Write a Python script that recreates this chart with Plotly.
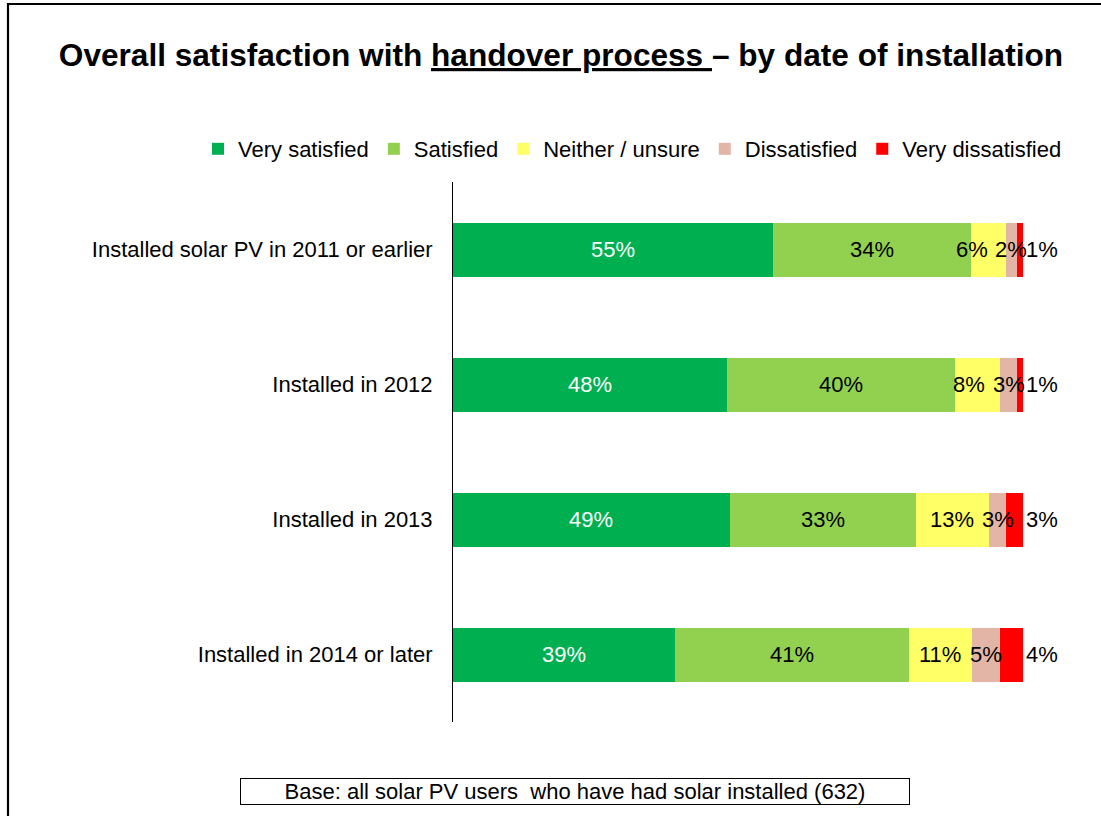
import plotly.graph_objects as go

# Survey groups (top to bottom) and response shares in percent
groups = [
    "Installed solar PV in 2011 or earlier",
    "Installed in 2012",
    "Installed in 2013",
    "Installed in 2014 or later",
]
very_satisfied = [55, 48, 49, 39]
satisfied = [34, 40, 33, 41]
neither_unsure = [6, 8, 13, 11]
dissatisfied = [2, 3, 3, 5]
very_dissatisfied = [1, 1, 3, 4]

series_names = ["Very satisfied", "Satisfied", "Neither / unsure",
                "Dissatisfied", "Very dissatisfied"]
series_values = [very_satisfied, satisfied, neither_unsure,
                 dissatisfied, very_dissatisfied]
series_colors = ["#00B050", "#92D050", "#FFFF66", "#E2B5A6", "#FF0000"]
label_colors = ["white", "black", "black", "black", "black"]

FONT = "Arial, 'Liberation Sans', sans-serif"
LABEL_SIZE = 22

# plot-area geometry (pixels)
PLOT_L, PLOT_W = 453, 570
PLOT_T, PLOT_H = 182, 540
PX_PER_UNIT = PLOT_W / 100.0

fig = go.Figure()
for name, vals, col in zip(series_names, series_values, series_colors):
    fig.add_trace(go.Bar(
        y=groups,
        x=vals,
        name=name,
        orientation="h",
        marker=dict(color=col, line=dict(width=0)),
        width=0.4,
        hoverinfo="skip",
    ))


def text_width(s, size):
    # rough Arial advance widths
    w = 0.0
    for ch in s:
        w += 0.889 if ch == "%" else 0.556
    return w * size


# Value labels: centred in each (normalised) segment, the last one just past
# the bar end; neighbouring labels are nudged left so they do not collide.
annotations = []
n_series = len(series_values)
for gi, g in enumerate(groups):
    row = [series_values[s][gi] for s in range(n_series)]
    total = float(sum(row))
    starts, ends = [], []
    acc = 0.0
    for v in row:
        starts.append(acc / total * 100)
        acc += v
        ends.append(acc / total * 100)
    texts = [f"{v}%" for v in row]
    centers = [(a + b) / 2 for a, b in zip(starts, ends)]
    widths = [text_width(t, LABEL_SIZE) / PX_PER_UNIT for t in texts]
    gap = 8 / PX_PER_UNIT
    # last label sits outside the bar
    annotations.append(dict(
        x=100, y=g, xref="x", yref="y", text=texts[-1],
        xanchor="left", yanchor="middle", xshift=1, showarrow=False,
        font=dict(size=LABEL_SIZE, family=FONT, color=label_colors[-1]),
    ))
    left_limit = None
    placed = [None] * (n_series - 1)
    for s in range(n_series - 2, -1, -1):
        c = centers[s]
        if left_limit is not None and c + widths[s] / 2 > left_limit:
            c = left_limit - widths[s] / 2
        placed[s] = c
        left_limit = c - widths[s] / 2 - gap
    for s in range(n_series - 1):
        annotations.append(dict(
            x=placed[s], y=g, xref="x", yref="y", text=texts[s],
            xanchor="center", yanchor="middle", showarrow=False,
            font=dict(size=LABEL_SIZE, family=FONT, color=label_colors[s]),
        ))

annotations.append(dict(
    text="Base: all solar PV users&nbsp; who have had solar installed (632)",
    xref="paper", yref="paper",
    x=(575 - PLOT_L) / PLOT_W, y=1 - (791.5 - PLOT_T) / PLOT_H,
    xanchor="center", yanchor="middle",
    showarrow=False,
    font=dict(size=22, family=FONT, color="black"),
    bordercolor="black", borderwidth=1, borderpad=0,
    width=668, height=25,
    bgcolor="white",
))

fig.update_layout(
    width=1101,
    height=816,
    barmode="stack",
    barnorm="percent",
    plot_bgcolor="white",
    paper_bgcolor="white",
    font=dict(family=FONT, color="black", size=22),
    margin=dict(l=PLOT_L, r=1101 - PLOT_L - PLOT_W, t=PLOT_T,
                b=816 - PLOT_T - PLOT_H),
    title=dict(
        text="<b>Overall satisfaction with <u>handover process </u>– by date of installation</b>",
        x=0.5095, xref="container", xanchor="center",
        y=1 - 55 / 816, yref="container", yanchor="middle",
        font=dict(size=31.6, family=FONT, color="black"),
    ),
    legend=dict(
        orientation="h",
        x=(198 - PLOT_L) / PLOT_W, xanchor="left",
        y=1 + (PLOT_T - 149) / PLOT_H, yanchor="middle",
        font=dict(size=22, family=FONT, color="black"),
        itemwidth=30,
        traceorder="normal",
        bgcolor="rgba(0,0,0,0)",
    ),
    xaxis=dict(visible=False, range=[0, 100], fixedrange=True),
    yaxis=dict(
        categoryorder="array",
        categoryarray=groups,
        autorange="reversed",
        showline=True,
        linecolor="black",
        linewidth=1,
        ticks="",
        showgrid=False,
        ticklabelstandoff=15,
        tickfont=dict(size=22, family=FONT, color="black"),
    ),
    shapes=[
        # frame around the slide
        dict(type="rect", xref="paper", yref="paper",
             x0=(8 - PLOT_L) / PLOT_W, x1=2.0,
             y0=-2.0, y1=1 + (PLOT_T - 4) / PLOT_H,
             line=dict(color="black", width=2.2), fillcolor="rgba(0,0,0,0)",
             layer="above"),
    ],
    annotations=annotations,
)

fig.write_html("out.html")
